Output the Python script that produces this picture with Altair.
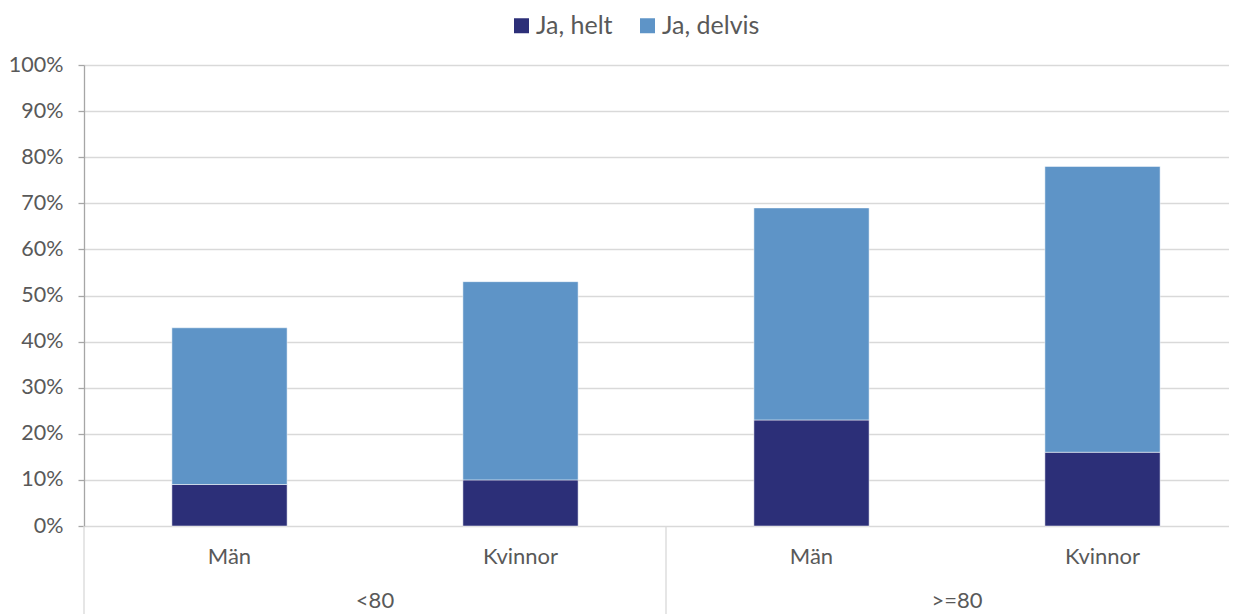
import altair as alt
import pandas as pd

age = ["<80", "<80", ">=80", ">=80"]
gender = ["Män", "Kvinnor", "Män", "Kvinnor"]
helt = [0.09, 0.10, 0.23, 0.16]
delvis = [0.34, 0.43, 0.46, 0.62]
series = ["Ja, helt", "Ja, delvis"]
colors = ["#2c2f78", "#5e94c7"]
groups = ["<80", ">=80"]

keys = [f"{a}|{g}" for a, g in zip(age, gender)]
rows = []
for k, a, g, h, d in zip(keys, age, gender, helt, delvis):
    rows.append({"key": k, "age": a, "gender": g, "serie": series[0], "val": h, "ord": 0})
    rows.append({"key": k, "age": a, "gender": g, "serie": series[1], "val": d, "ord": 1})
df = pd.DataFrame(rows)
lab_df = pd.DataFrame({"key": keys, "gender": gender})
grp_df = pd.DataFrame({"group": groups})

FONT = "Lato"
GREY = "#595959"
W, H = 1145, 461
XR = [0, 1164]

xscale = alt.Scale(domain=keys, range=XR, paddingInner=0.604, paddingOuter=0.302)
gscale = alt.Scale(domain=groups, range=XR, paddingInner=0, paddingOuter=0)

bars = alt.Chart(df).mark_bar(stroke="white", strokeWidth=0.5).encode(
    x=alt.X("key:N", scale=xscale, axis=None),
    y=alt.Y("val:Q", stack="zero",
            scale=alt.Scale(domain=[0, 1], nice=False),
            axis=alt.Axis(values=[i / 10 for i in range(11)], format=".0%", title=None,
                          grid=True, gridColor="#d9d9d9", gridWidth=1.3,
                          domain=True, domainColor="#a6a6a6", domainWidth=1.3,
                          ticks=True, tickColor="#a6a6a6", tickSize=6, tickWidth=1.3,
                          labelFont=FONT, labelFontSize=21.5, labelColor=GREY,
                          labelPadding=15)),
    color=alt.Color("serie:N", scale=alt.Scale(domain=series, range=colors),
                    legend=alt.Legend(title=None, orient="none", direction="horizontal",
                                      legendX=425, legendY=-52,
                                      symbolType="square", symbolSize=225,
                                      symbolStrokeWidth=0, labelOffset=2,
                                      columnPadding=22,
                                      labelFont=FONT, labelFontSize=25,
                                      labelColor=GREY)),
    order=alt.Order("ord:Q"),
)

sublabels = alt.Chart(lab_df).mark_text(font=FONT, fontSize=22, color=GREY,
                                        baseline="middle").encode(
    x=alt.X("key:N", scale=xscale, axis=None),
    y=alt.value(H + 31),
    text="gender:N",
)

grouplabels = alt.Chart(grp_df).mark_text(font=FONT, fontSize=22, color=GREY,
                                          baseline="middle").encode(
    x=alt.X("group:N", scale=gscale, axis=None),
    y=alt.value(H + 75),
    text="group:N",
)

seps = alt.Chart(grp_df).mark_rule(color="#d9d9d9", strokeWidth=1.3).encode(
    x=alt.X("group:N", scale=gscale, axis=None, bandPosition=0),
    y=alt.value(H),
    y2=alt.value(H + 100),
)

chart = alt.layer(bars, sublabels, grouplabels, seps).resolve_scale(
    x="independent"
).properties(
    width=W, height=H,
    autosize=alt.AutoSizeParams(type="none"),
    padding={"left": 76, "top": 57, "right": 0, "bottom": 88},
).configure_view(stroke=None)

chart.save("out.html", embed_options={"renderer": "svg", "actions": False})
